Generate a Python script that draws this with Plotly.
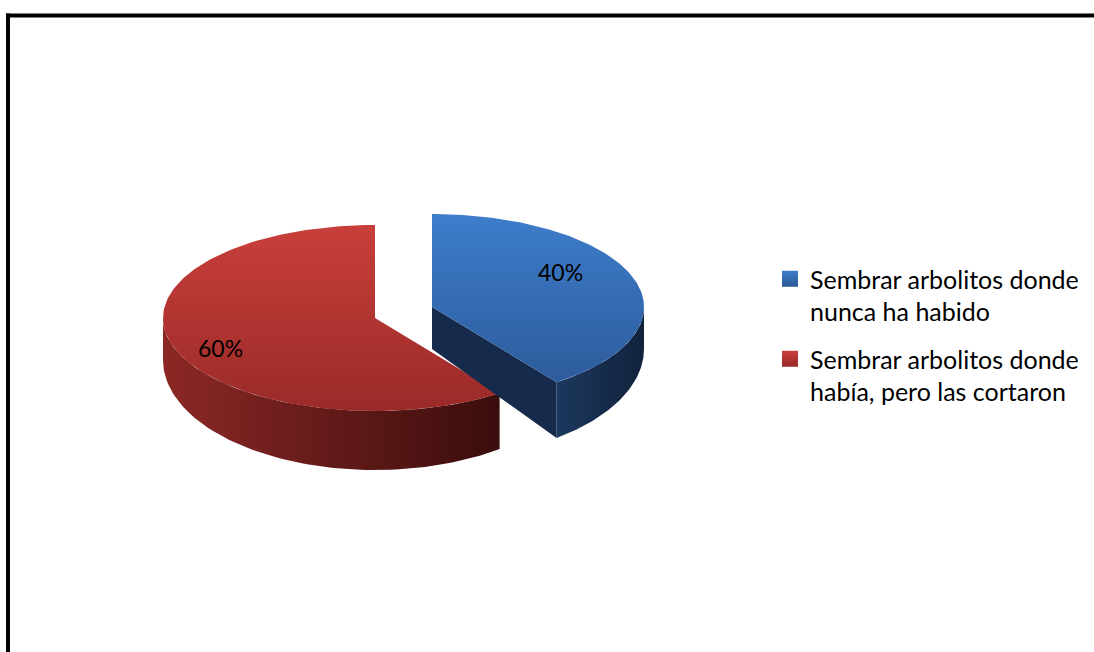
import numpy as np
import plotly.graph_objects as go

# ---------------- data ----------------
labels = ["Sembrar arbolitos donde<br>nunca ha habido",
          "Sembrar arbolitos donde<br>había, pero las cortaron"]
values = [40, 60]

# ---------------- style / geometry ----------------
TOP_COLORS = [("#3D7DCB", "#2D5C9C"), ("#C83F3B", "#9A2A28")]   # (top, bottom)
WALL_COLORS = [("#1C385E", "#11223C"), ("#8C2826", "#3A0D0C")]  # (left, right)
CUT_COLORS = ["#162B4B", "#6E1E1C"]
LEGEND_COLORS = [("#3F7FCC", "#2A5894"), ("#CC403C", "#962826")]
FONT = "Lato"

CX, CY, A, B = 375, 318, 212, 93      # top ellipse (pixel space)
DEPTH, B_BOT = 42, 110                # bottom ellipse offset / semi-minor (perspective)
PULL = [(57, -11), (0, 0)]            # explode offset per slice
LABEL_XY = [(560, 272), (220, 348)]
START = 90.0

def top_pt(th, dx, dy):
    t = np.radians(th)
    return CX + dx + A * np.cos(t), CY + dy - B * np.sin(t)

def bot_pt(th, dx, dy):
    t = np.radians(th)
    return CX + dx + A * np.cos(t), CY + dy + DEPTH - B_BOT * np.sin(t)

total = float(sum(values))
bounds = []
cum = 0.0
for v in values:
    th1 = START - cum / total * 360.0
    cum += v
    th2 = START - cum / total * 360.0
    bounds.append((th1, th2))

fig = go.Figure()

def poly(xs, ys, fill_kw):
    fig.add_trace(go.Scatter(x=list(xs) + [xs[0]], y=list(ys) + [ys[0]], mode="lines",
                             fill="toself", line=dict(width=0), hoverinfo="skip",
                             showlegend=False, **fill_kw))

for i in reversed(range(len(values))):
    th1, th2 = bounds[i]
    dx, dy = PULL[i]
    # cut faces
    for th, vis in ((th1, np.cos(np.radians(th1)) < -1e-9), (th2, np.cos(np.radians(th2)) > 1e-9)):
        if vis:
            ax, ay = CX + dx, CY + dy
            bx, by = CX + dx, CY + dy + DEPTH
            tx, ty = top_pt(th, dx, dy)
            ux, uy = bot_pt(th, dx, dy)
            poly([ax, tx, ux, bx], [ay, ty, uy, by], dict(fillcolor=CUT_COLORS[i]))
    # outer wall (front facing part)
    for k in range(-2, 2):
        lo = max(th2, -180 + 360 * k)
        hi = min(th1, 0 + 360 * k)
        if hi > lo:
            ang = np.linspace(hi, lo, 80)
            tx, ty = top_pt(ang, dx, dy)
            bx, by = bot_pt(ang[::-1], dx, dy)
            poly(np.r_[tx, bx], np.r_[ty, by],
                 dict(fillgradient=dict(type="horizontal",
                                        colorscale=[[0, WALL_COLORS[i][0]], [1, WALL_COLORS[i][1]]])))
    # top face (colorscale 0 = lower screen edge)
    ang = np.linspace(th1, th2, 160)
    tx, ty = top_pt(ang, dx, dy)
    poly(np.r_[CX + dx, tx], np.r_[CY + dy, ty],
         dict(fillgradient=dict(type="vertical",
                                colorscale=[[0, TOP_COLORS[i][1]], [1, TOP_COLORS[i][0]]])))

# legend entries
for i, lab in enumerate(labels):
    fig.add_trace(go.Scatter(x=[None], y=[None], mode="markers", name=lab,
                             legendgroup=f"g{i}",
                             marker=dict(symbol="square", size=16, color=LEGEND_COLORS[i][0],
                                         line=dict(width=0),
                                         gradient=dict(type="vertical", color=LEGEND_COLORS[i][1]))))

for i, v in enumerate(values):
    fig.add_annotation(x=LABEL_XY[i][0], y=LABEL_XY[i][1], xref="x", yref="y",
                       text=f"{v}%", showarrow=False,
                       font=dict(family=FONT, size=23, color="black"))

# chart frame (only top and left edges fall inside the picture)
fig.add_shape(type="line", xref="x", yref="y", x0=6, y0=15.5, x1=1094, y1=15.5,
              line=dict(color="black", width=4))
fig.add_shape(type="line", xref="x", yref="y", x0=8, y0=13.5, x1=8, y1=652,
              line=dict(color="black", width=4))

fig.update_layout(
    width=1094, height=652,
    margin=dict(l=0, r=0, t=0, b=0),
    paper_bgcolor="white", plot_bgcolor="white",
    xaxis=dict(range=[0, 1094], visible=False, fixedrange=True),
    yaxis=dict(range=[652, 0], visible=False, fixedrange=True),
    showlegend=True,
    legend=dict(x=770 / 1094, y=1 - 256 / 652, xanchor="left", yanchor="top",
                font=dict(family=FONT, size=25, color="black"),
                valign="top", tracegroupgap=12, bgcolor="rgba(0,0,0,0)"),
)

fig.write_html("out.html", config={"displayModeBar": False},
               post_script="document.documentElement.style.margin='0';document.body.style.margin='0';"
                           "document.documentElement.style.overflow='hidden';document.body.style.overflow='hidden';")
